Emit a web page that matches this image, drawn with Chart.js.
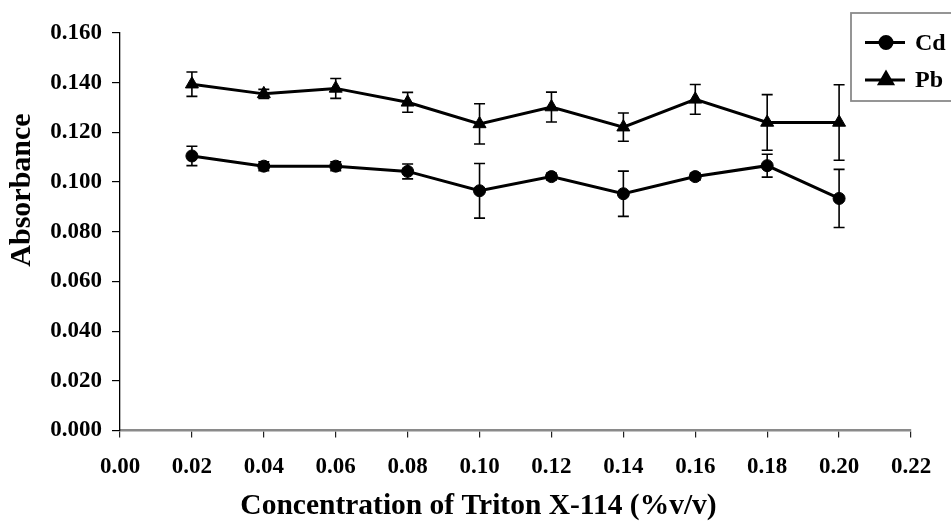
<!DOCTYPE html>
<html>
<head>
<meta charset="utf-8">
<script src="https://cdn.jsdelivr.net/npm/chart.js@4.4.1/dist/chart.umd.min.js"></script>
<style>
  html, body { margin: 0; padding: 0; background: #ffffff; }
  #wrap { width: 951px; height: 525px; position: relative; }
</style>
</head>
<body>
<div id="wrap"><canvas id="chart" width="951" height="525"></canvas></div>
<script>
// Triton X-114 concentration (%v/v)
const concentrations = [0.02, 0.04, 0.06, 0.08, 0.10, 0.12, 0.14, 0.16, 0.18, 0.20];

// Absorbance and standard deviation, Cd
const cdAbsorbance = [0.1105, 0.1064, 0.1064, 0.1043, 0.0965, 0.1022, 0.0953, 0.1022, 0.1066, 0.0934];
const cdError      = [0.0039, 0.0018, 0.0018, 0.0030, 0.0110, 0.0013, 0.0091, 0.0013, 0.0046, 0.0117];

// Absorbance and standard deviation, Pb
const pbAbsorbance = [0.1394, 0.1355, 0.1377, 0.1321, 0.1234, 0.1302, 0.1221, 0.1333, 0.1240, 0.1240];
const pbError      = [0.0049, 0.0018, 0.0040, 0.0040, 0.0081, 0.0060, 0.0057, 0.0060, 0.0112, 0.0152];

// Axis ticks
const xTicks = [0.00, 0.02, 0.04, 0.06, 0.08, 0.10, 0.12, 0.14, 0.16, 0.18, 0.20, 0.22];
const yTicks = [0.000, 0.020, 0.040, 0.060, 0.080, 0.100, 0.120, 0.140, 0.160];

const seriesNames = ['Cd', 'Pb'];
const xTitle = 'Concentration of Triton X-114 (%v/v)';
const yTitle = 'Absorbance';

const SERIF = "'Liberation Serif', 'Times New Roman', serif";

function toPoints(xs, ys) {
  return xs.map((x, i) => ({ x: x, y: ys[i] }));
}

// Vertical error bars with caps, positioned through the chart scales
const errorBarPlugin = {
  id: 'errorBars',
  afterDatasetsDraw(chart) {
    const ctx = chart.ctx;
    const yScale = chart.scales.y;
    const errors = [cdError, pbError];
    ctx.save();
    ctx.strokeStyle = '#000';
    ctx.lineWidth = 1.6;
    chart.data.datasets.forEach((ds, di) => {
      const meta = chart.getDatasetMeta(di);
      meta.data.forEach((pt, i) => {
        const v = ds.data[i].y;
        const e = errors[di][i];
        const yTop = yScale.getPixelForValue(v + e);
        const yBot = yScale.getPixelForValue(v - e);
        const x = pt.x;
        const cap = 5.5;
        ctx.beginPath();
        ctx.moveTo(x, yTop); ctx.lineTo(x, yBot);
        ctx.moveTo(x - cap, yTop); ctx.lineTo(x + cap, yTop);
        ctx.moveTo(x - cap, yBot); ctx.lineTo(x + cap, yBot);
        ctx.stroke();
      });
    });
    ctx.restore();
  }
};

// Axis titles and the boxed legend
const decorPlugin = {
  id: 'decor',
  afterDraw(chart) {
    const ctx = chart.ctx;
    ctx.save();
    ctx.fillStyle = '#000';

    // y-axis title
    ctx.font = 'bold 30px ' + SERIF;
    ctx.textAlign = 'center';
    ctx.textBaseline = 'middle';
    ctx.save();
    ctx.translate(22, 190);
    ctx.rotate(-Math.PI / 2);
    ctx.fillText(yTitle, 0, 0);
    ctx.restore();

    // x-axis title
    ctx.font = 'bold 29.5px ' + SERIF;
    ctx.fillText(xTitle, 478.5, 506);

    // legend box
    ctx.strokeStyle = '#8a8a8a';
    ctx.lineWidth = 1.8;
    ctx.strokeRect(851, 13, 120, 88);

    const rows = [
      { name: seriesNames[0], y: 42.5, style: 'circle', r: 6 },
      { name: seriesNames[1], y: 80, style: 'triangle', r: 7.5 }
    ];
    rows.forEach(row => {
      ctx.strokeStyle = '#000';
      ctx.lineWidth = 3;
      ctx.beginPath();
      ctx.moveTo(865, row.y);
      ctx.lineTo(905, row.y);
      ctx.stroke();
      Chart.helpers.drawPoint(ctx, {
        pointStyle: row.style, radius: row.r, borderWidth: 1, rotation: 0
      }, 886, row.y);
      ctx.fillStyle = '#000';
      ctx.fill();
      ctx.font = 'bold 24px ' + SERIF;
      ctx.textAlign = 'left';
      ctx.textBaseline = 'middle';
      ctx.fillText(row.name, 915, row.y + 1);
    });
    ctx.restore();
  }
};

const ctx = document.getElementById('chart').getContext('2d');
new Chart(ctx, {
  type: 'scatter',
  data: {
    datasets: [
      {
        label: seriesNames[0],
        data: toPoints(concentrations, cdAbsorbance),
        showLine: true,
        borderColor: '#000',
        backgroundColor: '#000',
        borderWidth: 3,
        pointStyle: 'circle',
        pointRadius: 6,
        pointBorderWidth: 1,
        pointHoverRadius: 6
      },
      {
        label: seriesNames[1],
        data: toPoints(concentrations, pbAbsorbance),
        showLine: true,
        borderColor: '#000',
        backgroundColor: '#000',
        borderWidth: 3,
        pointStyle: 'triangle',
        pointRadius: 7.5,
        pointBorderWidth: 1,
        pointHoverRadius: 7.5
      }
    ]
  },
  options: {
    responsive: false,
    animation: false,
    events: [],
    layout: { padding: { left: 0, right: 40, top: 33, bottom: 0 } },
    plugins: {
      legend: { display: false },
      tooltip: { enabled: false }
    },
    scales: {
      x: {
        type: 'linear',
        min: xTicks[0],
        max: xTicks[xTicks.length - 1],
        afterBuildTicks: s => { s.ticks = xTicks.map(v => ({ value: v })); },
        afterFit: s => { s.height = 94.5; },
        border: { display: true, color: '#8a8a8a', width: 2.6 },
        grid: { drawOnChartArea: false, drawTicks: true, tickLength: 7, color: '#222', lineWidth: 1.2 },
        ticks: {
          autoSkip: false,
          maxRotation: 0,
          padding: 16,
          color: '#000',
          font: { family: SERIF, size: 23, weight: 'bold' },
          callback: v => Number(v).toFixed(2)
        }
      },
      y: {
        type: 'linear',
        min: yTicks[0],
        max: yTicks[yTicks.length - 1],
        afterBuildTicks: s => { s.ticks = yTicks.map(v => ({ value: v })); },
        afterFit: s => { s.width = 120; },
        border: { display: true, color: '#000', width: 1.3 },
        grid: { drawOnChartArea: false, drawTicks: true, tickLength: 8, color: '#000', lineWidth: 1.2 },
        ticks: {
          padding: 10,
          color: '#000',
          font: { family: SERIF, size: 23, weight: 'bold' },
          callback: v => Number(v).toFixed(3)
        }
      }
    }
  },
  plugins: [errorBarPlugin, decorPlugin]
});
</script>
</body>
</html>
